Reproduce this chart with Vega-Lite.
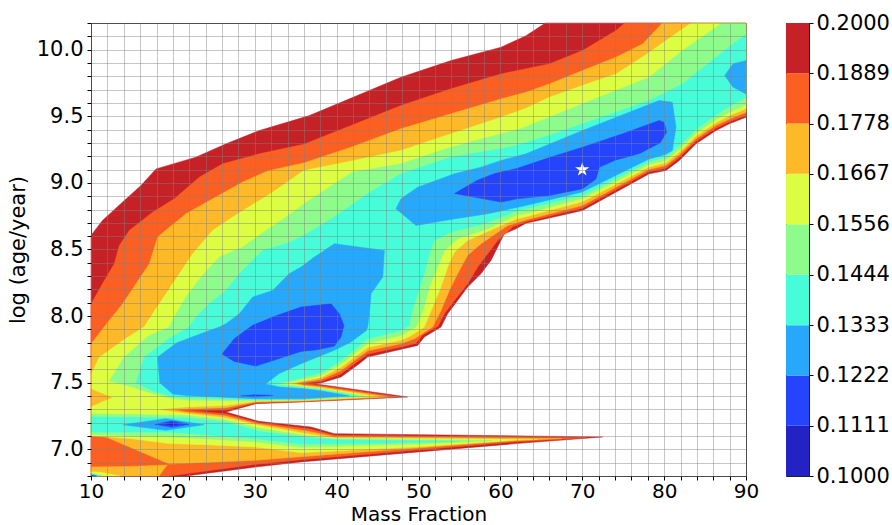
{
"$schema":"https://vega.github.io/schema/vega-lite/v6.json",
"background":"white",
"padding":{"left":6,"top":11,"right":0,"bottom":0},
"config":{"view":{"stroke":"#222","strokeWidth":1},
"axis":{"labelFontSize":21,"titleFontSize":21,"labelFont":"DejaVu Sans","titleFont":"DejaVu Sans","labelColor":"#000","titleColor":"#000","titleFontWeight":"normal","tickColor":"#000","tickSize":4,"domain":false,"gridColor":"#808080","gridOpacity":0.45,"gridWidth":1,"labelFlush":false,"labelOverlap":false,"labelPadding":4}},
"datasets":{
"poly":[
{"p":"A","l":1,"x":10,"y":6.8},{"p":"A","l":1,"x":10,"y":8.606},{"p":"A","l":1,"x":11.4,"y":8.718},{"p":"A","l":1,"x":14.07,"y":8.868},{"p":"A","l":1,"x":16.1,"y":8.98},{"p":"A","l":1,"x":17.94,"y":9.105},{"p":"A","l":1,"x":22.8,"y":9.193},{"p":"A","l":1,"x":26.5,"y":9.293},{"p":"A","l":1,"x":30.56,"y":9.393},{"p":"A","l":1,"x":36.67,"y":9.505},{"p":"A","l":1,"x":47.86,"y":9.793},{"p":"A","l":1,"x":53.97,"y":9.918},{"p":"A","l":1,"x":60.08,"y":10.018},{"p":"A","l":1,"x":63.13,"y":10.105},{"p":"A","l":1,"x":65.5,"y":10.2},{"p":"A","l":1,"x":90,"y":10.2},{"p":"A","l":1,"x":90,"y":9.493},{"p":"A","l":1,"x":87.96,"y":9.443},{"p":"A","l":1,"x":86.34,"y":9.393},{"p":"A","l":1,"x":83.89,"y":9.293},{"p":"A","l":1,"x":81.86,"y":9.168},{"p":"A","l":1,"x":80.23,"y":9.093},{"p":"A","l":1,"x":78.19,"y":9.068},{"p":"A","l":1,"x":70.05,"y":8.793},{"p":"A","l":1,"x":63.13,"y":8.697},{"p":"A","l":1,"x":61.91,"y":8.655},{"p":"A","l":1,"x":60.48,"y":8.618},{"p":"A","l":1,"x":59.67,"y":8.518},{"p":"A","l":1,"x":58.85,"y":8.418},{"p":"A","l":1,"x":57.63,"y":8.318},{"p":"A","l":1,"x":56.0,"y":8.218},{"p":"A","l":1,"x":54.78,"y":8.118},{"p":"A","l":1,"x":53.56,"y":8.018},{"p":"A","l":1,"x":52.75,"y":7.918},{"p":"A","l":1,"x":50.71,"y":7.843},{"p":"A","l":1,"x":49.9,"y":7.78},{"p":"A","l":1,"x":43.79,"y":7.693},{"p":"A","l":1,"x":42.77,"y":7.643},{"p":"A","l":1,"x":40.54,"y":7.543},{"p":"A","l":1,"x":38.09,"y":7.498},{"p":"A","l":1,"x":37.28,"y":7.493},{"p":"A","l":1,"x":48.68,"y":7.393},{"p":"A","l":1,"x":35.65,"y":7.355},{"p":"A","l":1,"x":30.15,"y":7.343},{"p":"A","l":1,"x":26.49,"y":7.28},{"p":"A","l":1,"x":30.5,"y":7.21},{"p":"A","l":1,"x":36.87,"y":7.168},{"p":"A","l":1,"x":39.72,"y":7.118},{"p":"A","l":1,"x":72.49,"y":7.093},{"p":"A","l":1,"x":61.9,"y":7.043},{"p":"A","l":1,"x":35.65,"y":6.906},{"p":"A","l":1,"x":30.15,"y":6.868},{"p":"A","l":1,"x":21.6,"y":6.8},
{"p":"B","l":2,"x":10,"y":6.8},{"p":"B","l":2,"x":10,"y":8.09},{"p":"B","l":2,"x":11.4,"y":8.243},{"p":"B","l":2,"x":12.85,"y":8.393},{"p":"B","l":2,"x":13.46,"y":8.53},{"p":"B","l":2,"x":14.68,"y":8.643},{"p":"B","l":2,"x":17.53,"y":8.78},{"p":"B","l":2,"x":20.18,"y":8.88},{"p":"B","l":2,"x":23.23,"y":9.043},{"p":"B","l":2,"x":26.08,"y":9.143},{"p":"B","l":2,"x":30.56,"y":9.218},{"p":"B","l":2,"x":36,"y":9.29},{"p":"B","l":2,"x":41.76,"y":9.43},{"p":"B","l":2,"x":47.86,"y":9.58},{"p":"B","l":2,"x":53.97,"y":9.706},{"p":"B","l":2,"x":60.08,"y":9.818},{"p":"B","l":2,"x":65.98,"y":9.893},{"p":"B","l":2,"x":70.05,"y":9.993},{"p":"B","l":2,"x":74.12,"y":10.143},{"p":"B","l":2,"x":75.2,"y":10.2},{"p":"B","l":2,"x":90,"y":10.2},{"p":"B","l":2,"x":90,"y":9.506},{"p":"B","l":2,"x":88,"y":9.46},{"p":"B","l":2,"x":86.3,"y":9.41},{"p":"B","l":2,"x":83.85,"y":9.31},{"p":"B","l":2,"x":81.85,"y":9.19},{"p":"B","l":2,"x":80.2,"y":9.11},{"p":"B","l":2,"x":78.1,"y":9.083},{"p":"B","l":2,"x":70,"y":8.81},{"p":"B","l":2,"x":63.1,"y":8.708},{"p":"B","l":2,"x":61.5,"y":8.67},{"p":"B","l":2,"x":61.3,"y":8.656},{"p":"B","l":2,"x":59.67,"y":8.568},{"p":"B","l":2,"x":58.45,"y":8.468},{"p":"B","l":2,"x":57.23,"y":8.368},{"p":"B","l":2,"x":56.0,"y":8.243},{"p":"B","l":2,"x":54.38,"y":8.118},{"p":"B","l":2,"x":53.16,"y":8.018},{"p":"B","l":2,"x":52.4,"y":7.925},{"p":"B","l":2,"x":50.5,"y":7.858},{"p":"B","l":2,"x":49.7,"y":7.797},{"p":"B","l":2,"x":47.86,"y":7.768},{"p":"B","l":2,"x":43.8,"y":7.715},{"p":"B","l":2,"x":42.6,"y":7.662},{"p":"B","l":2,"x":40.5,"y":7.565},{"p":"B","l":2,"x":38.1,"y":7.51},{"p":"B","l":2,"x":35.8,"y":7.497},{"p":"B","l":2,"x":37.5,"y":7.483},{"p":"B","l":2,"x":47.6,"y":7.393},{"p":"B","l":2,"x":35.65,"y":7.359},{"p":"B","l":2,"x":30.15,"y":7.349},{"p":"B","l":2,"x":26.49,"y":7.296},{"p":"B","l":2,"x":21.6,"y":7.293},{"p":"B","l":2,"x":26.49,"y":7.266},{"p":"B","l":2,"x":30.5,"y":7.2},{"p":"B","l":2,"x":36.8,"y":7.152},{"p":"B","l":2,"x":39.72,"y":7.105},{"p":"B","l":2,"x":70.5,"y":7.087},{"p":"B","l":2,"x":61.9,"y":7.057},{"p":"B","l":2,"x":35.65,"y":6.922},{"p":"B","l":2,"x":30.15,"y":6.888},{"p":"B","l":2,"x":19.57,"y":6.8},
{"p":"C","l":3,"x":10,"y":7.1},{"p":"C","l":3,"x":10,"y":7.79},{"p":"C","l":3,"x":12.0,"y":7.95},{"p":"C","l":3,"x":13.87,"y":8.093},{"p":"C","l":3,"x":15.5,"y":8.243},{"p":"C","l":3,"x":17.13,"y":8.393},{"p":"C","l":3,"x":18.14,"y":8.593},{"p":"C","l":3,"x":21.6,"y":8.768},{"p":"C","l":3,"x":28.53,"y":9.006},{"p":"C","l":3,"x":31.58,"y":9.09},{"p":"C","l":3,"x":36,"y":9.15},{"p":"C","l":3,"x":41.76,"y":9.268},{"p":"C","l":3,"x":47.86,"y":9.406},{"p":"C","l":3,"x":53.97,"y":9.518},{"p":"C","l":3,"x":60.08,"y":9.63},{"p":"C","l":3,"x":63.13,"y":9.68},{"p":"C","l":3,"x":65.98,"y":9.743},{"p":"C","l":3,"x":70.05,"y":9.843},{"p":"C","l":3,"x":74.12,"y":9.943},{"p":"C","l":3,"x":77.38,"y":10.043},{"p":"C","l":3,"x":79.8,"y":10.2},{"p":"C","l":3,"x":90,"y":10.2},{"p":"C","l":3,"x":90,"y":9.53},{"p":"C","l":3,"x":88,"y":9.48},{"p":"C","l":3,"x":86.3,"y":9.43},{"p":"C","l":3,"x":83.85,"y":9.33},{"p":"C","l":3,"x":81.85,"y":9.21},{"p":"C","l":3,"x":80.2,"y":9.13},{"p":"C","l":3,"x":78.1,"y":9.1},{"p":"C","l":3,"x":70,"y":8.83},{"p":"C","l":3,"x":63.1,"y":8.722},{"p":"C","l":3,"x":62,"y":8.7},{"p":"C","l":3,"x":60.89,"y":8.68},{"p":"C","l":3,"x":57.64,"y":8.543},{"p":"C","l":3,"x":56.0,"y":8.456},{"p":"C","l":3,"x":54.78,"y":8.318},{"p":"C","l":3,"x":53.77,"y":8.193},{"p":"C","l":3,"x":52.75,"y":8.043},{"p":"C","l":3,"x":51.73,"y":7.918},{"p":"C","l":3,"x":49.5,"y":7.83},{"p":"C","l":3,"x":47.86,"y":7.793},{"p":"C","l":3,"x":43.8,"y":7.74},{"p":"C","l":3,"x":40.5,"y":7.59},{"p":"C","l":3,"x":38.1,"y":7.525},{"p":"C","l":3,"x":35.0,"y":7.497},{"p":"C","l":3,"x":36,"y":7.481},{"p":"C","l":3,"x":38,"y":7.47},{"p":"C","l":3,"x":46.3,"y":7.394},{"p":"C","l":3,"x":35.65,"y":7.363},{"p":"C","l":3,"x":30.15,"y":7.355},{"p":"C","l":3,"x":26.49,"y":7.313},{"p":"C","l":3,"x":21.6,"y":7.303},{"p":"C","l":3,"x":19.97,"y":7.298},{"p":"C","l":3,"x":21.6,"y":7.28},{"p":"C","l":3,"x":26.49,"y":7.25},{"p":"C","l":3,"x":30.5,"y":7.19},{"p":"C","l":3,"x":36.5,"y":7.135},{"p":"C","l":3,"x":39.72,"y":7.095},{"p":"C","l":3,"x":67.5,"y":7.081},{"p":"C","l":3,"x":61.9,"y":7.066},{"p":"C","l":3,"x":35.65,"y":6.945},{"p":"C","l":3,"x":30.15,"y":6.918},{"p":"C","l":3,"x":19.57,"y":6.89},{"p":"C","l":3,"x":11.83,"y":7.093},
{"p":"C2","l":3,"x":10,"y":6.8},{"p":"C2","l":3,"x":10,"y":6.868},{"p":"C2","l":3,"x":15,"y":6.872},{"p":"C2","l":3,"x":19.3,"y":6.882},{"p":"C2","l":3,"x":18.3,"y":6.8},
{"p":"D","l":4,"x":10,"y":7.103},{"p":"D","l":4,"x":10,"y":7.318},{"p":"D","l":4,"x":12.65,"y":7.39},{"p":"D","l":4,"x":10,"y":7.456},{"p":"D","l":4,"x":10,"y":7.56},{"p":"D","l":4,"x":11,"y":7.69},{"p":"D","l":4,"x":14.2,"y":7.83},{"p":"D","l":4,"x":16.5,"y":7.92},{"p":"D","l":4,"x":17.53,"y":8.018},{"p":"D","l":4,"x":19.16,"y":8.168},{"p":"D","l":4,"x":20.79,"y":8.318},{"p":"D","l":4,"x":22.42,"y":8.468},{"p":"D","l":4,"x":24.86,"y":8.643},{"p":"D","l":4,"x":27.3,"y":8.743},{"p":"D","l":4,"x":32.19,"y":8.93},{"p":"D","l":4,"x":36,"y":9.093},{"p":"D","l":4,"x":41.5,"y":9.16},{"p":"D","l":4,"x":47.86,"y":9.243},{"p":"D","l":4,"x":53.97,"y":9.368},{"p":"D","l":4,"x":60.08,"y":9.493},{"p":"D","l":4,"x":63.13,"y":9.56},{"p":"D","l":4,"x":65.98,"y":9.643},{"p":"D","l":4,"x":70,"y":9.73},{"p":"D","l":4,"x":74.12,"y":9.818},{"p":"D","l":4,"x":77.5,"y":9.95},{"p":"D","l":4,"x":80.23,"y":10.068},{"p":"D","l":4,"x":83.3,"y":10.2},{"p":"D","l":4,"x":90,"y":10.2},{"p":"D","l":4,"x":90,"y":9.556},{"p":"D","l":4,"x":88,"y":9.505},{"p":"D","l":4,"x":86.3,"y":9.45},{"p":"D","l":4,"x":83.85,"y":9.35},{"p":"D","l":4,"x":81.85,"y":9.23},{"p":"D","l":4,"x":80.2,"y":9.15},{"p":"D","l":4,"x":78.1,"y":9.118},{"p":"D","l":4,"x":70,"y":8.858},{"p":"D","l":4,"x":63.1,"y":8.745},{"p":"D","l":4,"x":62,"y":8.73},{"p":"D","l":4,"x":60.08,"y":8.68},{"p":"D","l":4,"x":56.0,"y":8.568},{"p":"D","l":4,"x":54.38,"y":8.48},{"p":"D","l":4,"x":53.56,"y":8.368},{"p":"D","l":4,"x":52.75,"y":8.218},{"p":"D","l":4,"x":51.73,"y":8.068},{"p":"D","l":4,"x":50.71,"y":7.918},{"p":"D","l":4,"x":49,"y":7.85},{"p":"D","l":4,"x":47.86,"y":7.818},{"p":"D","l":4,"x":43.8,"y":7.765},{"p":"D","l":4,"x":40.5,"y":7.615},{"p":"D","l":4,"x":38.1,"y":7.54},{"p":"D","l":4,"x":34.2,"y":7.495},{"p":"D","l":4,"x":36,"y":7.475},{"p":"D","l":4,"x":38,"y":7.462},{"p":"D","l":4,"x":45,"y":7.395},{"p":"D","l":4,"x":35.65,"y":7.367},{"p":"D","l":4,"x":30.15,"y":7.361},{"p":"D","l":4,"x":26.49,"y":7.33},{"p":"D","l":4,"x":21.6,"y":7.318},{"p":"D","l":4,"x":18.0,"y":7.3},{"p":"D","l":4,"x":21.6,"y":7.27},{"p":"D","l":4,"x":26.49,"y":7.235},{"p":"D","l":4,"x":30.5,"y":7.18},{"p":"D","l":4,"x":36.3,"y":7.118},{"p":"D","l":4,"x":39.72,"y":7.085},{"p":"D","l":4,"x":64.5,"y":7.074},{"p":"D","l":4,"x":61.9,"y":7.07},{"p":"D","l":4,"x":50,"y":7.02},{"p":"D","l":4,"x":35.65,"y":6.975},{"p":"D","l":4,"x":30.15,"y":7.018},{"p":"D","l":4,"x":24,"y":7.035},{"p":"D","l":4,"x":19.57,"y":7.043},{"p":"D","l":4,"x":15,"y":7.08},
{"p":"D2","l":4,"x":10,"y":6.8},{"p":"D2","l":4,"x":10,"y":6.832},{"p":"D2","l":4,"x":11.2,"y":6.828},{"p":"D2","l":4,"x":13.5,"y":6.8},
{"p":"E","l":5,"x":12.24,"y":7.513},{"p":"E","l":5,"x":14.07,"y":7.693},{"p":"E","l":5,"x":17,"y":7.85},{"p":"E","l":5,"x":19.57,"y":7.918},{"p":"E","l":5,"x":20.38,"y":8.018},{"p":"E","l":5,"x":21.6,"y":8.143},{"p":"E","l":5,"x":23.44,"y":8.293},{"p":"E","l":5,"x":25.67,"y":8.443},{"p":"E","l":5,"x":28.53,"y":8.518},{"p":"E","l":5,"x":31.38,"y":8.643},{"p":"E","l":5,"x":33.82,"y":8.743},{"p":"E","l":5,"x":36.2,"y":8.85},{"p":"E","l":5,"x":41.9,"y":9.08},{"p":"E","l":5,"x":47.86,"y":9.143},{"p":"E","l":5,"x":53.97,"y":9.268},{"p":"E","l":5,"x":60.08,"y":9.368},{"p":"E","l":5,"x":62.5,"y":9.406},{"p":"E","l":5,"x":65.98,"y":9.493},{"p":"E","l":5,"x":70.05,"y":9.593},{"p":"E","l":5,"x":74.12,"y":9.693},{"p":"E","l":5,"x":78.19,"y":9.793},{"p":"E","l":5,"x":82.26,"y":9.993},{"p":"E","l":5,"x":86.34,"y":10.168},{"p":"E","l":5,"x":87,"y":10.2},{"p":"E","l":5,"x":90,"y":10.2},{"p":"E","l":5,"x":90,"y":9.588},{"p":"E","l":5,"x":88,"y":9.53},{"p":"E","l":5,"x":86.3,"y":9.475},{"p":"E","l":5,"x":83.85,"y":9.37},{"p":"E","l":5,"x":81.85,"y":9.25},{"p":"E","l":5,"x":80.2,"y":9.17},{"p":"E","l":5,"x":78.1,"y":9.138},{"p":"E","l":5,"x":70,"y":8.883},{"p":"E","l":5,"x":63.1,"y":8.77},{"p":"E","l":5,"x":62,"y":8.76},{"p":"E","l":5,"x":58.45,"y":8.656},{"p":"E","l":5,"x":54.78,"y":8.58},{"p":"E","l":5,"x":53.16,"y":8.493},{"p":"E","l":5,"x":52.34,"y":8.368},{"p":"E","l":5,"x":51.33,"y":8.218},{"p":"E","l":5,"x":50.71,"y":8.068},{"p":"E","l":5,"x":49.7,"y":7.918},{"p":"E","l":5,"x":47.86,"y":7.855},{"p":"E","l":5,"x":43.8,"y":7.795},{"p":"E","l":5,"x":40.5,"y":7.64},{"p":"E","l":5,"x":38.1,"y":7.555},{"p":"E","l":5,"x":33.3,"y":7.49},{"p":"E","l":5,"x":36,"y":7.469},{"p":"E","l":5,"x":38,"y":7.455},{"p":"E","l":5,"x":43.8,"y":7.396},{"p":"E","l":5,"x":35.65,"y":7.371},{"p":"E","l":5,"x":30.15,"y":7.367},{"p":"E","l":5,"x":26.49,"y":7.366},{"p":"E","l":5,"x":21.6,"y":7.37},{"p":"E","l":5,"x":20,"y":7.38},{"p":"E","l":5,"x":17.5,"y":7.42},{"p":"E","l":5,"x":14.68,"y":7.475},
{"p":"E2","l":5,"x":10,"y":7.268},{"p":"E2","l":5,"x":15,"y":7.262},{"p":"E2","l":5,"x":21.6,"y":7.255},{"p":"E2","l":5,"x":26.49,"y":7.22},{"p":"E2","l":5,"x":30.5,"y":7.158},{"p":"E2","l":5,"x":36,"y":7.105},{"p":"E2","l":5,"x":39.72,"y":7.078},{"p":"E2","l":5,"x":59,"y":7.066},{"p":"E2","l":5,"x":50,"y":7.04},{"p":"E2","l":5,"x":35.65,"y":7.015},{"p":"E2","l":5,"x":30.15,"y":7.056},{"p":"E2","l":5,"x":24,"y":7.08},{"p":"E2","l":5,"x":19.57,"y":7.093},{"p":"E2","l":5,"x":15,"y":7.1},{"p":"E2","l":5,"x":10,"y":7.11},
{"p":"F","l":6,"x":15.5,"y":7.5},{"p":"F","l":6,"x":16.51,"y":7.693},{"p":"F","l":6,"x":19.5,"y":7.83},{"p":"F","l":6,"x":22.0,"y":7.918},{"p":"F","l":6,"x":22.8,"y":7.993},{"p":"F","l":6,"x":24.45,"y":8.093},{"p":"F","l":6,"x":26.49,"y":8.193},{"p":"F","l":6,"x":28.12,"y":8.318},{"p":"F","l":6,"x":30.97,"y":8.493},{"p":"F","l":6,"x":33.82,"y":8.543},{"p":"F","l":6,"x":35.65,"y":8.593},{"p":"F","l":6,"x":39.72,"y":8.743},{"p":"F","l":6,"x":43.79,"y":8.918},{"p":"F","l":6,"x":47.86,"y":9.068},{"p":"F","l":6,"x":50.3,"y":9.118},{"p":"F","l":6,"x":53.97,"y":9.193},{"p":"F","l":6,"x":60.08,"y":9.256},{"p":"F","l":6,"x":61.9,"y":9.28},{"p":"F","l":6,"x":65.98,"y":9.356},{"p":"F","l":6,"x":70.05,"y":9.443},{"p":"F","l":6,"x":74.12,"y":9.53},{"p":"F","l":6,"x":78.19,"y":9.618},{"p":"F","l":6,"x":82.26,"y":9.743},{"p":"F","l":6,"x":86.34,"y":9.943},{"p":"F","l":6,"x":90,"y":10.118},{"p":"F","l":6,"x":90,"y":9.643},{"p":"F","l":6,"x":88,"y":9.575},{"p":"F","l":6,"x":86.3,"y":9.51},{"p":"F","l":6,"x":83.85,"y":9.4},{"p":"F","l":6,"x":81.85,"y":9.28},{"p":"F","l":6,"x":80.2,"y":9.195},{"p":"F","l":6,"x":78.1,"y":9.158},{"p":"F","l":6,"x":70,"y":8.908},{"p":"F","l":6,"x":63.1,"y":8.806},{"p":"F","l":6,"x":62,"y":8.79},{"p":"F","l":6,"x":58.04,"y":8.693},{"p":"F","l":6,"x":53.97,"y":8.631},{"p":"F","l":6,"x":51.93,"y":8.568},{"p":"F","l":6,"x":51.33,"y":8.468},{"p":"F","l":6,"x":50.71,"y":8.318},{"p":"F","l":6,"x":49.9,"y":8.168},{"p":"F","l":6,"x":49.09,"y":8.018},{"p":"F","l":6,"x":48.9,"y":7.93},{"p":"F","l":6,"x":47.86,"y":7.893},{"p":"F","l":6,"x":43.8,"y":7.83},{"p":"F","l":6,"x":40.5,"y":7.665},{"p":"F","l":6,"x":38.1,"y":7.575},{"p":"F","l":6,"x":32.3,"y":7.485},{"p":"F","l":6,"x":36,"y":7.462},{"p":"F","l":6,"x":38,"y":7.447},{"p":"F","l":6,"x":42.6,"y":7.398},{"p":"F","l":6,"x":35.65,"y":7.375},{"p":"F","l":6,"x":30.15,"y":7.373},{"p":"F","l":6,"x":26.49,"y":7.376},{"p":"F","l":6,"x":21.6,"y":7.39},{"p":"F","l":6,"x":20,"y":7.397},{"p":"F","l":6,"x":17.5,"y":7.44},
{"p":"F2","l":6,"x":10,"y":7.13},{"p":"F2","l":6,"x":10,"y":7.243},{"p":"F2","l":6,"x":15,"y":7.24},{"p":"F2","l":6,"x":21.6,"y":7.235},{"p":"F2","l":6,"x":26.49,"y":7.205},{"p":"F2","l":6,"x":30.5,"y":7.135},{"p":"F2","l":6,"x":36,"y":7.09},{"p":"F2","l":6,"x":40,"y":7.072},{"p":"F2","l":6,"x":55,"y":7.06},{"p":"F2","l":6,"x":45,"y":7.045},{"p":"F2","l":6,"x":35.65,"y":7.04},{"p":"F2","l":6,"x":30.15,"y":7.08},{"p":"F2","l":6,"x":24,"y":7.11},{"p":"F2","l":6,"x":19.57,"y":7.13},{"p":"F2","l":6,"x":15,"y":7.13},
{"p":"F3","l":6,"x":10,"y":6.8},{"p":"F3","l":6,"x":10,"y":6.82},{"p":"F3","l":6,"x":11.3,"y":6.8},
{"p":"G1","l":7,"x":47.25,"y":8.806},{"p":"G1","l":7,"x":47.86,"y":8.88},{"p":"G1","l":7,"x":49.9,"y":8.968},{"p":"G1","l":7,"x":54.38,"y":9.068},{"p":"G1","l":7,"x":57.64,"y":9.118},{"p":"G1","l":7,"x":60.08,"y":9.168},{"p":"G1","l":7,"x":63.13,"y":9.218},{"p":"G1","l":7,"x":70.05,"y":9.393},{"p":"G1","l":7,"x":79.4,"y":9.618},{"p":"G1","l":7,"x":81.0,"y":9.606},{"p":"G1","l":7,"x":81.45,"y":9.418},{"p":"G1","l":7,"x":81.0,"y":9.243},{"p":"G1","l":7,"x":80.2,"y":9.215},{"p":"G1","l":7,"x":78.1,"y":9.178},{"p":"G1","l":7,"x":70,"y":8.932},{"p":"G1","l":7,"x":63.1,"y":8.83},{"p":"G1","l":7,"x":62,"y":8.816},{"p":"G1","l":7,"x":58.45,"y":8.768},{"p":"G1","l":7,"x":53.16,"y":8.718},{"p":"G1","l":7,"x":49.7,"y":8.68},
{"p":"G2","l":7,"x":87.4,"y":9.806},{"p":"G2","l":7,"x":88.4,"y":9.893},{"p":"G2","l":7,"x":90,"y":9.918},{"p":"G2","l":7,"x":90,"y":9.668},{"p":"G2","l":7,"x":88.4,"y":9.72},
{"p":"G3","l":7,"x":18.4,"y":7.5},{"p":"G3","l":7,"x":18.14,"y":7.693},{"p":"G3","l":7,"x":20.5,"y":7.8},{"p":"G3","l":7,"x":23.5,"y":7.87},{"p":"G3","l":7,"x":25.67,"y":7.918},{"p":"G3","l":7,"x":26.49,"y":7.943},{"p":"G3","l":7,"x":28.12,"y":8.018},{"p":"G3","l":7,"x":29.75,"y":8.143},{"p":"G3","l":7,"x":32.19,"y":8.193},{"p":"G3","l":7,"x":34.2,"y":8.318},{"p":"G3","l":7,"x":35.65,"y":8.368},{"p":"G3","l":7,"x":37.28,"y":8.443},{"p":"G3","l":7,"x":39.72,"y":8.543},{"p":"G3","l":7,"x":45.83,"y":8.493},{"p":"G3","l":7,"x":45.63,"y":8.293},{"p":"G3","l":7,"x":44.2,"y":8.168},{"p":"G3","l":7,"x":44.0,"y":8.018},{"p":"G3","l":7,"x":43.79,"y":7.918},{"p":"G3","l":7,"x":43.6,"y":7.89},{"p":"G3","l":7,"x":41.76,"y":7.806},{"p":"G3","l":7,"x":39.72,"y":7.743},{"p":"G3","l":7,"x":37.68,"y":7.693},{"p":"G3","l":7,"x":35.65,"y":7.643},{"p":"G3","l":7,"x":33,"y":7.57},{"p":"G3","l":7,"x":31.3,"y":7.49},{"p":"G3","l":7,"x":33,"y":7.468},{"p":"G3","l":7,"x":36,"y":7.455},{"p":"G3","l":7,"x":38,"y":7.44},{"p":"G3","l":7,"x":41.5,"y":7.402},{"p":"G3","l":7,"x":36,"y":7.379},{"p":"G3","l":7,"x":30,"y":7.38},{"p":"G3","l":7,"x":21.6,"y":7.405},{"p":"G3","l":7,"x":20,"y":7.415},
{"p":"G4","l":7,"x":13.9,"y":7.185},{"p":"G4","l":7,"x":19.16,"y":7.23},{"p":"G4","l":7,"x":23.8,"y":7.185},{"p":"G4","l":7,"x":19.16,"y":7.143},
{"p":"H1","l":8,"x":54.4,"y":8.92},{"p":"H1","l":8,"x":57.2,"y":9.02},{"p":"H1","l":8,"x":59.3,"y":9.07},{"p":"H1","l":8,"x":61.9,"y":9.106},{"p":"H1","l":8,"x":66,"y":9.19},{"p":"H1","l":8,"x":70.05,"y":9.268},{"p":"H1","l":8,"x":75,"y":9.37},{"p":"H1","l":8,"x":79.4,"y":9.468},{"p":"H1","l":8,"x":80,"y":9.455},{"p":"H1","l":8,"x":80.3,"y":9.38},{"p":"H1","l":8,"x":79.5,"y":9.3},{"p":"H1","l":8,"x":77,"y":9.22},{"p":"H1","l":8,"x":74,"y":9.17},{"p":"H1","l":8,"x":72.09,"y":9.118},{"p":"H1","l":8,"x":71.68,"y":9.03},{"p":"H1","l":8,"x":70.05,"y":8.956},{"p":"H1","l":8,"x":66,"y":8.906},{"p":"H1","l":8,"x":62,"y":8.88},{"p":"H1","l":8,"x":60.08,"y":8.856},
{"p":"H2","l":8,"x":26.0,"y":7.715},{"p":"H2","l":8,"x":27.5,"y":7.83},{"p":"H2","l":8,"x":29.7,"y":7.93},{"p":"H2","l":8,"x":32.5,"y":8.0},{"p":"H2","l":8,"x":35.65,"y":8.068},{"p":"H2","l":8,"x":39.31,"y":8.093},{"p":"H2","l":8,"x":40.33,"y":8.018},{"p":"H2","l":8,"x":40.9,"y":7.93},{"p":"H2","l":8,"x":40.53,"y":7.843},{"p":"H2","l":8,"x":39.72,"y":7.775},{"p":"H2","l":8,"x":37.68,"y":7.748},{"p":"H2","l":8,"x":35.65,"y":7.735},{"p":"H2","l":8,"x":30.15,"y":7.625},{"p":"H2","l":8,"x":27.5,"y":7.66},
{"p":"H3","l":8,"x":17.8,"y":7.188},{"p":"H3","l":8,"x":19.9,"y":7.213},{"p":"H3","l":8,"x":22,"y":7.188},{"p":"H3","l":8,"x":19.9,"y":7.165},
{"p":"H4","l":8,"x":28.3,"y":7.4},{"p":"H4","l":8,"x":30,"y":7.41},{"p":"H4","l":8,"x":32.2,"y":7.404},{"p":"H4","l":8,"x":30,"y":7.394},
{"p":"H5","l":8,"x":10,"y":6.8},{"p":"H5","l":8,"x":10,"y":6.81},{"p":"H5","l":8,"x":10.7,"y":6.8},
{"p":"I","l":9,"x":19.2,"y":7.19},{"p":"I","l":9,"x":19.9,"y":7.2},{"p":"I","l":9,"x":20.6,"y":7.19},{"p":"I","l":9,"x":19.9,"y":7.18}
],
"star":[{"x":70,"y":9.1}],
"cbar":[{"lo":0.1,"hi":0.1111,"k":9},{"lo":0.1111,"hi":0.1222,"k":8},{"lo":0.1222,"hi":0.1333,"k":7},{"lo":0.1333,"hi":0.1444,"k":6},{"lo":0.1444,"hi":0.1556,"k":5},{"lo":0.1556,"hi":0.1667,"k":4},{"lo":0.1667,"hi":0.1778,"k":3},{"lo":0.1778,"hi":0.1889,"k":2},{"lo":0.1889,"hi":0.2,"k":1}]
},
"spacing":40,
"bounds":"flush",
"hconcat":[
{"width":655,"height":453,"data":{"name":"poly"},
"encoding":{
"x":{"field":"x","type":"quantitative","scale":{"domain":[10,90],"nice":false,"zero":false},"axis":{"title":"Mass Fraction","titleFontSize":20,"labelFontSize":20,"values":[10,12,14,16,18,20,22,24,26,28,30,32,34,36,38,40,42,44,46,48,50,52,54,56,58,60,62,64,66,68,70,72,74,76,78,80,82,84,86,88,90],"labelExpr":"datum.value % 10 === 0 ? datum.label : ''","grid":true,"zindex":1,"labelPadding":1,"titlePadding":3}},
"y":{"field":"y","type":"quantitative","scale":{"domain":[6.8,10.2],"nice":false,"zero":false},"axis":{"title":"log (age/year)","values":[6.8,6.9,7,7.1,7.2,7.3,7.4,7.5,7.6,7.7,7.8,7.9,8,8.1,8.2,8.3,8.4,8.5,8.6,8.7,8.8,8.9,9,9.1,9.2,9.3,9.4,9.5,9.6,9.7,9.8,9.9,10,10.1,10.2],"labelExpr":"abs(datum.value*2-round(datum.value*2))<0.01 ? format(datum.value,'.1f') : ''","grid":true,"zindex":1,"titlePadding":8}}
},
"layer":[
{"transform":[{"filter":"datum.l==1"}],"mark":{"type":"line","interpolate":"linear-closed","fill":"#c52127","stroke":"#c52127","strokeWidth":0.5},"encoding":{"detail":{"field":"p"},"order":{"value":null}}},
{"transform":[{"filter":"datum.l==2"}],"mark":{"type":"line","interpolate":"linear-closed","fill":"#fb6022","stroke":"#fb6022","strokeWidth":0.5},"encoding":{"detail":{"field":"p"},"order":{"value":null}}},
{"transform":[{"filter":"datum.l==3"}],"mark":{"type":"line","interpolate":"linear-closed","fill":"#fdb928","stroke":"#fdb928","strokeWidth":0.5},"encoding":{"detail":{"field":"p"},"order":{"value":null}}},
{"transform":[{"filter":"datum.l==4"}],"mark":{"type":"line","interpolate":"linear-closed","fill":"#dcfd41","stroke":"#dcfd41","strokeWidth":0.5},"encoding":{"detail":{"field":"p"},"order":{"value":null}}},
{"transform":[{"filter":"datum.l==5"}],"mark":{"type":"line","interpolate":"linear-closed","fill":"#8efc8b","stroke":"#8efc8b","strokeWidth":0.5},"encoding":{"detail":{"field":"p"},"order":{"value":null}}},
{"transform":[{"filter":"datum.l==6"}],"mark":{"type":"line","interpolate":"linear-closed","fill":"#47fcd8","stroke":"#47fcd8","strokeWidth":0.5},"encoding":{"detail":{"field":"p"},"order":{"value":null}}},
{"transform":[{"filter":"datum.l==7"}],"mark":{"type":"line","interpolate":"linear-closed","fill":"#26a9fd","stroke":"#26a9fd","strokeWidth":0.5},"encoding":{"detail":{"field":"p"},"order":{"value":null}}},
{"transform":[{"filter":"datum.l==8"}],"mark":{"type":"line","interpolate":"linear-closed","fill":"#2544fd","stroke":"#2544fd","strokeWidth":0.5},"encoding":{"detail":{"field":"p"},"order":{"value":null}}},
{"transform":[{"filter":"datum.l==9"}],"mark":{"type":"line","interpolate":"linear-closed","fill":"#2323c5","stroke":"#2323c5","strokeWidth":0.5},"encoding":{"detail":{"field":"p"},"order":{"value":null}}},
{"data":{"name":"star"},"mark":{"type":"point","shape":"M0,-1L0.2245,-0.309L0.951,-0.309L0.363,0.118L0.588,0.809L0,0.382L-0.588,0.809L-0.363,0.118L-0.951,-0.309L-0.2245,-0.309Z","size":220,"filled":true,"fill":"#ffffff","opacity":1,"strokeWidth":0}}
]},
{"width":23,"height":453,"data":{"name":"cbar"},"mark":{"type":"rect"},
"encoding":{
"y":{"field":"lo","type":"quantitative","scale":{"domain":[0.1,0.2],"nice":false,"zero":false},"axis":{"orient":"right","title":null,"grid":false,"values":[0.1,0.1111,0.1222,0.1333,0.1444,0.1556,0.1667,0.1778,0.1889,0.2],"format":".4f","labelPadding":3}},
"y2":{"field":"hi"},
"color":{"field":"k","type":"ordinal","scale":{"domain":[1,2,3,4,5,6,7,8,9],"range":["#c52127","#fb6022","#fdb928","#dcfd41","#8efc8b","#47fcd8","#26a9fd","#2544fd","#2323c5"]},"legend":null}
}}
]
}
